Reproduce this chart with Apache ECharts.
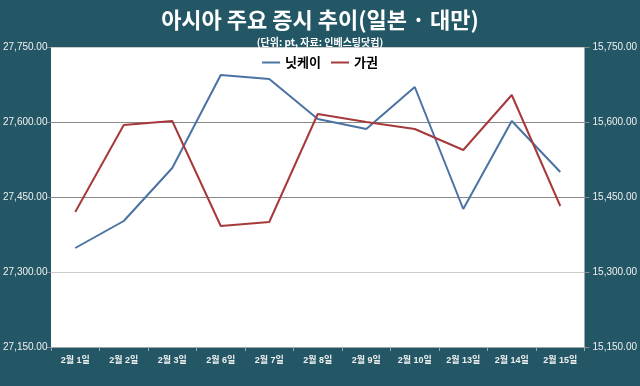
<!DOCTYPE html>
<html><head><meta charset="utf-8">
<script src="https://cdn.jsdelivr.net/npm/echarts@6/dist/echarts.min.js"></script>
<style>html,body{margin:0;padding:0;background:#235766;}#c{width:640px;height:386px;}</style>
</head><body><div id="c"></div>
<script>
var categories = ['2월 1일','2월 2일','2월 3일','2월 6일','2월 7일','2월 8일','2월 9일','2월 10일','2월 13일','2월 14일','2월 15일'];
var nikkei = [27348, 27402, 27508, 27694, 27686, 27606, 27586, 27670, 27426, 27602, 27500];
var taiex = [15420, 15594, 15602, 15392, 15400, 15616, 15600, 15586, 15544, 15654, 15432];
var seriesNames = ['닛케이', '가권'];
var titleText = '아시아 주요 증시 추이(일본 · 대만)';
var subText = '(단위: pt, 자료: 인베스팅닷컴)';

function fmt(v){ return v.toLocaleString('en-US',{minimumFractionDigits:2,maximumFractionDigits:2}); }
var chart = echarts.init(document.getElementById('c'));
var font = 'Liberation Sans, Noto Sans CJK KR, sans-serif';
chart.setOption({
  backgroundColor: '#235766',
  animation: false,
  title: {
    text: titleText, subtext: subText, left: 'center', top: 4, itemGap: 6,
    textStyle: {color: '#ffffff', fontSize: 22, fontWeight: 'bold', fontFamily: 'Noto Sans CJK KR'},
    subtextStyle: {color: '#ffffff', fontSize: 10, fontWeight: 'bold', fontFamily: 'Noto Sans CJK KR'}
  },
  legend: {
    data: seriesNames, top: 51, left: 'center', itemWidth: 18, itemHeight: 2, itemGap: 10,
    icon: 'rect',
    textStyle: {color: '#000', fontSize: 13, fontWeight: 'bold', fontFamily: 'Noto Sans CJK KR'}
  },
  grid: {left: 50, right: 52, top: 47, bottom: 39, backgroundColor: '#ffffff', show: true, borderWidth: 0},
  xAxis: {
    type: 'category', data: categories, boundaryGap: true,
    axisLine: {lineStyle: {color: '#9aa6aa', width: 1}},
    axisTick: {show: true, length: 4, lineStyle: {color: '#9aa6aa'}},
    axisLabel: {color: '#f0f0f0', fontSize: 9, fontFamily: font, margin: 9, interval: 0, fontWeight: 'bold'}
  },
  yAxis: [{
    type: 'value', min: 27150, max: 27750, interval: 150, position: 'left',
    axisLine: {show: false},
    axisTick: {show: true, length: 5, lineStyle: {color: '#888'}},
    axisLabel: {color: '#f0f0f0', fontSize: 10, fontFamily: font, formatter: fmt, align: 'left', margin: 48},
    splitLine: {show: true, lineStyle: {color: ['#cccccc', '#cccccc', '#888888', '#888888', '#cccccc'], width: 1}}
  }, {
    type: 'value', min: 15150, max: 15750, interval: 150, position: 'right',
    axisLine: {show: false},
    axisTick: {show: true, length: 5, lineStyle: {color: '#888'}},
    axisLabel: {color: '#f0f0f0', fontSize: 10, fontFamily: font, formatter: fmt, margin: 8},
    splitLine: {show: false}
  }],
  series: [{
    name: seriesNames[0], type: 'line', data: nikkei, yAxisIndex: 0,
    symbol: 'none', lineStyle: {color: '#4a72a3', width: 2}, itemStyle: {color: '#4a72a3'}
  }, {
    name: seriesNames[1], type: 'line', data: taiex, yAxisIndex: 1,
    symbol: 'none', lineStyle: {color: '#a5393b', width: 2}, itemStyle: {color: '#a5393b'}
  }]
});
</script></body></html>
